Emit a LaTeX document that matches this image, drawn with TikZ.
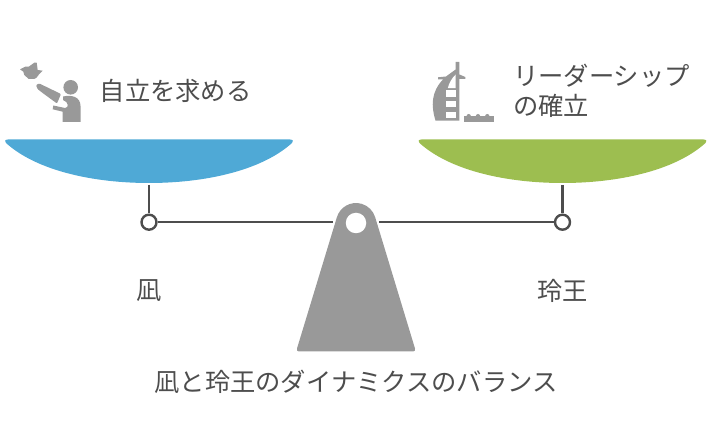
\documentclass[tikz,border=0pt]{standalone}
\usepackage{xcolor}
\usepackage{fontspec}
\setmainfont{Noto Sans CJK JP}
\definecolor{inkgray}{HTML}{4D4D4D}
\definecolor{iconGray}{HTML}{999999}
\definecolor{panblue}{HTML}{4FA9D6}
\definecolor{pangreen}{HTML}{9DBE50}
\tikzset{
  caption/.style={text=inkgray, inner sep=0pt, align=left, font=\fontsize{25.3}{30}\selectfont},
  pin/.style={circle, draw=inkgray, line width=2.4pt, fill=white, minimum size=15pt, inner sep=0pt},
  beam/.style={draw=inkgray, line width=2.4pt},
  pan/.pic={
    \path[pic actions] (-141,139.5) -- (141,139.5) .. controls (144,139.5) and (145,141.5) .. (143,143)
      .. controls (112,171) and (55,183) .. (0,183) .. controls (-55,183) and (-112,171) .. (-143,143)
      .. controls (-145,141.5) and (-144,139.5) .. (-141,139.5) -- cycle;
  }
}
\begin{document}
\begin{tikzpicture}[x=1pt, y=-1pt]
    \useasboundingbox (0,0) rectangle (718,438);

    % pans
    \pic[fill=panblue] at (149,0) {pan};
    \pic[fill=pangreen] at (562.5,0) {pan};

    % fulcrum
    \fill[iconGray] (299,351.5) .. controls (297,351.5) and (296.5,350) .. (297,348.5) -- (336.8,217.5) arc[start angle=196, end angle=344, radius=20]
      -- (415,348.5) .. controls (415.5,350) and (415,351.5) .. (413,351.5) -- cycle;
    \node (hole) [circle, fill=white, minimum size=20.5pt, inner sep=0pt] at (356,223) {};

    % beam
    \coordinate (armleft) at (333,222.2);
    \coordinate (armright) at (379,222.2);
    \coordinate (panleft) at (149,185);
    \coordinate (panright) at (562.5,185);
    \node (pinleft) [pin] at (149,222.2) {};
    \node (pinright) [pin] at (562.5,222.2) {};
    \draw[beam] (panleft) -- (pinleft);
    \draw[beam] (panright) -- (pinright);
    \draw[beam] (pinleft) -- (armleft);
    \draw[beam] (armright) -- (pinright);

    % person with bird
    \fill[iconGray] (20,69.3) -- (25.3,66.7) -- (28.7,66.7) -- (34.3,62.7) -- (36.7,62.7) -- (37.7,70) -- (42.7,70.7) -- (39.3,74)
      .. controls (37,77) and (36,79) .. (34.3,79) -- (28.7,79) -- (24.3,75) -- (23.3,71.7) -- cycle;
    \fill[iconGray, rounded corners=1pt] (36,85) -- (39.3,83.5) -- (61,94) -- (57,103.5) -- (43.3,93.5) -- (37.5,89) -- cycle;
    \fill[iconGray] (70.7,87.3) circle[radius=7.3];
    \fill[iconGray] (63,96.5) .. controls (72,94.5) and (80.5,97) .. (80.5,106) -- (80.5,122) -- (62.7,122) -- (62.7,111.7) -- (52.7,109.3) -- (53.3,105.5) -- (65,108)
      .. controls (69,108) and (69,102) .. (63,100) -- cycle;

    % tower and water
    \fill[iconGray] (455.6,62) -- (459.4,62) -- (459.4,74.5) -- (465.3,77) -- (465.3,79) -- (459.4,79) -- (459.4,120.7) -- (435.5,120.7)
      .. controls (431,106) and (431,92) .. (443,79.5) -- (438,79.5) -- (438,77.3) -- (446,76.5) -- (455.6,69.5) -- cycle;
    \fill[white] (455.5,74.7) -- (455.5,88.2) -- (447.8,88.2) .. controls (449,83) and (452,78) .. (455.5,74.7) -- cycle;
    \foreach \ytop/\ybot in {90.5/97.3, 100.7/107.3, 112/118.3}
      \fill[white] (446,\ytop) rectangle (455.5,\ybot);
    \fill[iconGray] (463.7,116) rectangle (493.7,122);
    \foreach \xbump in {468.7, 478, 487.3}
      \fill[iconGray] (\xbump,116.2) circle[radius=2.2];

    % texts
    \node (seek) [caption, anchor=west] at (99.5,91) {自立を求める};
    \node (lead) [caption, anchor=west] at (513,91) {リーダーシップ\\の確立};
    \node (nagi) [caption] at (149,291) {凪};
    \node (reo) [caption] at (562.5,291) {玲王};
    \node (title) [caption] at (356,382) {凪と玲王のダイナミクスのバランス};
\end{tikzpicture}
\end{document}
